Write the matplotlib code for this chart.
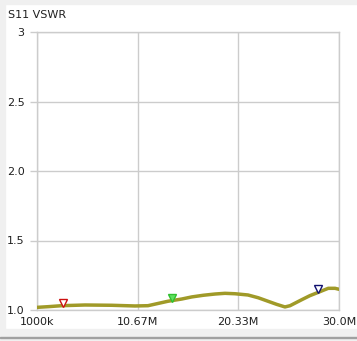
import matplotlib
matplotlib.use("Agg")
import matplotlib.pyplot as plt
from matplotlib.patches import Rectangle

# S11 VSWR sweep (MHz, VSWR)
freq_mhz = [1.0, 2.09, 3.37, 5.61, 8.17, 10.41, 11.66, 13.58, 14.9, 15.86,
            16.97, 18.1, 19.05, 20.01, 21.26, 22.25, 23.18, 24.0, 24.81,
            25.3, 26.42, 27.2, 28.01, 28.5, 28.97, 29.62, 30.0]
vswr = [1.019, 1.024, 1.031, 1.036, 1.034, 1.029, 1.031, 1.063, 1.079, 1.094,
        1.106, 1.115, 1.12, 1.117, 1.108, 1.088, 1.063, 1.041, 1.022,
        1.031, 1.074, 1.103, 1.127, 1.142, 1.156, 1.156, 1.149]

marker_freqs = [3.5, 14.0, 28.0]
marker_vswr = [1.031, 1.066, 1.127]
marker_colors = ["#cc1010", "#30c030", "#101070"]
marker_fills = ["white", "#60e060", "white"]

x_ticks = [1.0, 10.67, 20.33, 30.0]
x_labels = ["1000k", "10.67M", "20.33M", "30.0M"]
y_ticks = [1.0, 1.5, 2.0, 2.5, 3.0]
y_labels = ["1.0", "1.5", "2.0", "2.5", "3"]

W, H = 357, 341
fig = plt.figure(figsize=(W / 100, H / 100), dpi=100)
fig.patch.set_facecolor("white")

# window chrome bands
fig.patches.append(Rectangle((0, 1 - 4 / H), 1, 4 / H, transform=fig.transFigure,
                             color="#f0f0f0", zorder=0))
fig.patches.append(Rectangle((0, 0), 1, 12 / H, transform=fig.transFigure,
                             color="#f0f0f0", zorder=0))
fig.patches.append(Rectangle((0, 0), 5 / W, 1, transform=fig.transFigure,
                             color="#f0f0f0", zorder=0))
fig.patches.append(Rectangle((0, 3 / H), 1, 1 / H, transform=fig.transFigure,
                             color="#a0a0a0", zorder=0))

ax = fig.add_axes([37 / W, (H - 310) / H, (339 - 37) / W, (310 - 32) / H])
ax.set_facecolor("white")

ax.plot(freq_mhz, vswr, color="#a09a28", lw=2.5, solid_joinstyle="round",
        solid_capstyle="round", zorder=3)

for f, v, c, fc in zip(marker_freqs, marker_vswr, marker_colors, marker_fills):
    ax.plot(f, v + 0.022, marker="v", ms=6, mec=c, mfc=fc, mew=1.0, zorder=4)

ax.set_xlim(1.0, 30.0)
ax.set_ylim(1.0, 3.0)
ax.set_xticks(x_ticks)
ax.set_xticklabels(x_labels)
ax.set_yticks(y_ticks)
ax.set_yticklabels(y_labels)
ax.grid(True, color="#cccccc", lw=1.0)
ax.set_axisbelow(True)

for s in ax.spines.values():
    s.set_color("#cccccc")
    s.set_linewidth(1.0)

ax.tick_params(axis="y", length=5, width=1.0, color="#cccccc", pad=4,
               labelsize=8, labelcolor="#202020")
ax.tick_params(axis="x", length=0, pad=5, labelsize=8, labelcolor="#202020")

fig.text(8 / W, 1 - 15 / H, "S11 VSWR", fontsize=8, color="#202020",
         ha="left", va="center")

fig.savefig("out.png", dpi=100, facecolor=fig.get_facecolor())
